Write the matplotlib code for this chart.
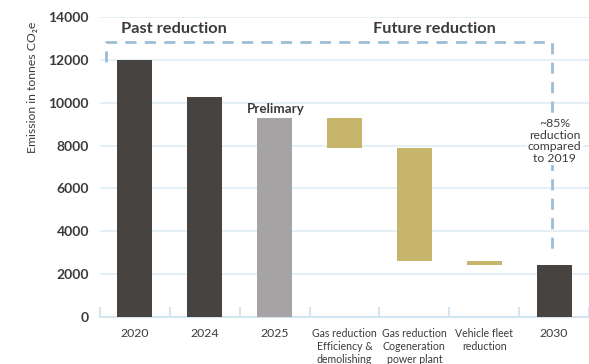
import matplotlib
matplotlib.use("Agg")
import matplotlib.pyplot as plt

plt.rcParams['font.family'] = ['Lato', 'DejaVu Sans']

categories = ["2020", "2024", "2025",
              "Gas reduction\nEfficiency &\ndemolishing",
              "Gas reduction\nCogeneration\npower plant",
              "Vehicle fleet\nreduction",
              "2030"]
totals = [12000, 10250, 9300]        # 2020, 2024, 2025 (preliminary)
reductions = [1400, 5300, 150]       # planned steps after 2025
target_2030 = 2450

dark = "#474341"
grey = "#a5a3a3"
gold = "#c6b56b"
grid_blue = "#e0ecf5"
dash_blue = "#9dbdd5"
text_col = "#3d3b3a"

fig = plt.figure(figsize=(5.89, 3.64), dpi=100)
ax = fig.add_axes([0.1698, 0.1291, 0.8302, 0.8242])

x = list(range(len(categories)))
w = 0.5

# measured years
ax.bar(x[0], totals[0], width=w, color=dark, zorder=3)
ax.bar(x[1], totals[1], width=w, color=dark, zorder=3)
ax.bar(x[2], totals[2], width=w, color=grey, zorder=3)

# floating reduction steps
level = totals[2]
for i, r in enumerate(reductions):
    ax.bar(x[3 + i], r, bottom=level - r, width=w, color=gold, zorder=3)
    level -= r

ax.bar(x[6], target_2030, width=w, color=dark, zorder=3)

ax.set_xlim(-0.5, 6.5)
ax.set_ylim(0, 14000)
ax.set_yticks(range(0, 14001, 2000))
ax.yaxis.grid(True, color=grid_blue, lw=1.2, zorder=0)
ax.set_axisbelow(True)

for s in ["top", "right", "left"]:
    ax.spines[s].set_visible(False)
ax.spines["bottom"].set_color("#d3e5f1")
ax.spines["bottom"].set_linewidth(1.5)

ax.set_xticks(x)
ax.set_xticklabels(categories)
ax.set_xticks([i - 0.5 for i in range(len(categories) + 1)], minor=True)
ax.tick_params(axis="x", which="major", length=0, pad=8)
ax.tick_params(axis="x", which="minor", direction="in", length=7,
               width=1.5, color="#d3e5f1")
ax.tick_params(axis="y", length=0, pad=8, labelsize=10, labelcolor=text_col)
for lbl in ax.get_yticklabels():
    lbl.set_fontweight("bold")
for i, lbl in enumerate(ax.get_xticklabels()):
    lbl.set_color(text_col)
    lbl.set_fontsize(8.8 if i in (0, 1, 2, 6) else 7.6)
    lbl.set_va("top")
    lbl.set_linespacing(1.2)

fig.text(0.056, 0.76, "Emission in tonnes CO\u2082e", rotation=90,
         ha="center", va="center", fontsize=8.8, color=text_col)

# dashed bracket from the 2020 bar to the 2030 bar
bx = [-0.414, -0.414, 5.97, 5.97]
by = [11900, 12830, 12830, 2940]
ax.plot(bx, by, color=dash_blue, lw=2, ls=(0, (4, 3)), zorder=2,
        clip_on=False)

ax.text(6.01, 8213, "~85%\nreduction\ncompared\nto 2019", ha="center",
        va="center", fontsize=8.8, color=text_col, linespacing=1.05,
        bbox=dict(facecolor="white", edgecolor="none", pad=1), zorder=4)

ax.text(0.557, 13440, "Past reduction", ha="center", va="center",
        fontsize=11.8, fontweight="bold", color=text_col)
ax.text(4.29, 13440, "Future reduction", ha="center", va="center",
        fontsize=11.8, fontweight="bold", color=text_col)
ax.text(2.014, 9706, "Prelimary", ha="center", va="center",
        fontsize=9.6, fontweight="bold", color=text_col)

fig.savefig("out.png", dpi=100)
